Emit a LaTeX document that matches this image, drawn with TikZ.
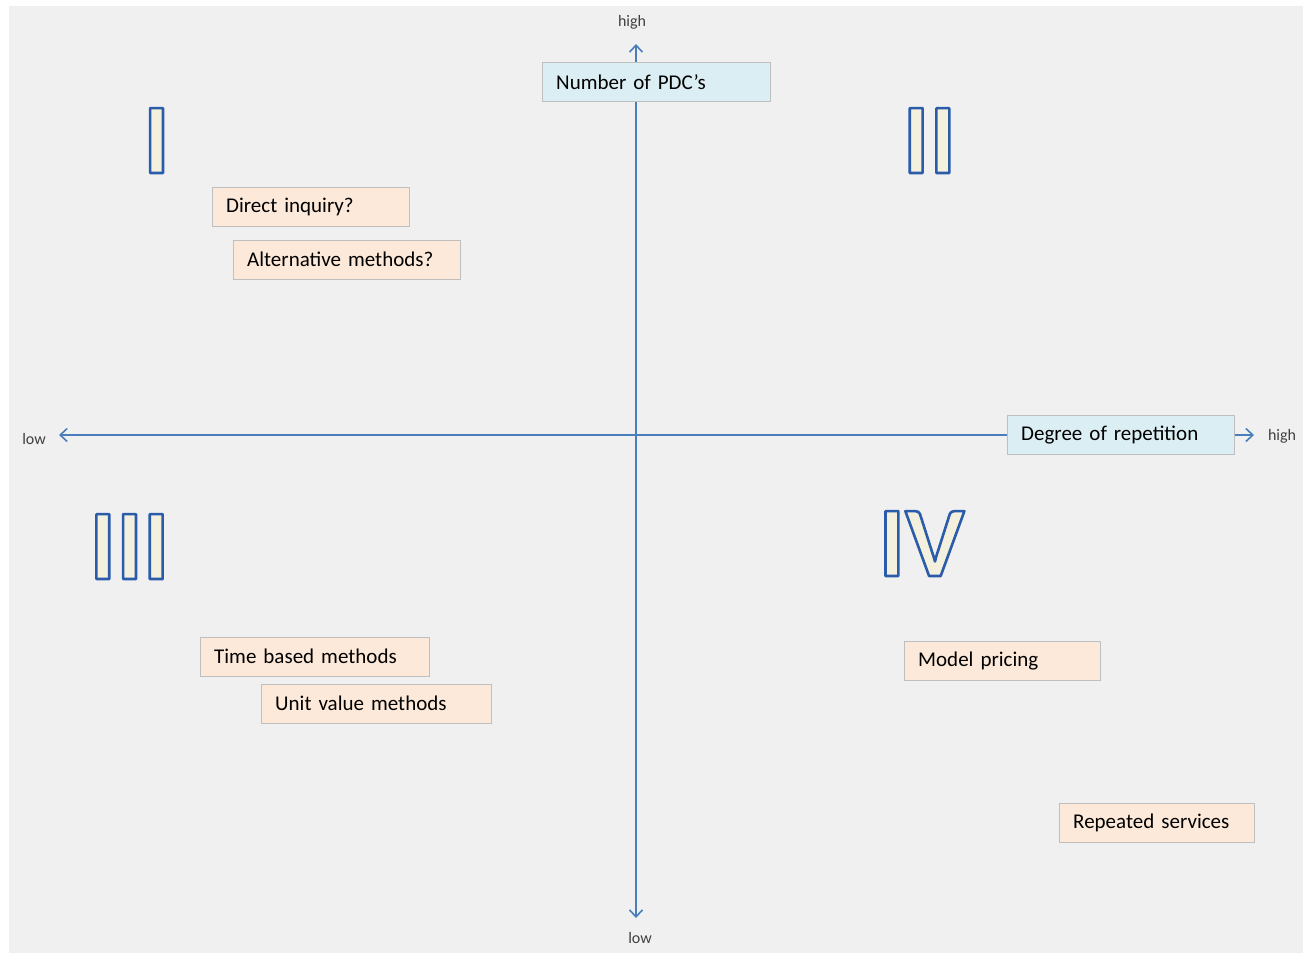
\documentclass[tikz,border=0pt]{standalone}
\usepackage{fontspec}
\setmainfont{Carlito}
\usetikzlibrary{arrows.meta}
\definecolor{bggray}{HTML}{F0F0F0}
\definecolor{axisblue}{HTML}{4A7EBB}
\definecolor{bluefill}{HTML}{DBEEF4}
\definecolor{peachfill}{HTML}{FDE9D9}
\definecolor{boxline}{HTML}{BFBFBF}
\definecolor{numfill}{HTML}{F4F0DE}
\definecolor{lblgray}{HTML}{404040}
% outlined numerals: fill in numfill, stroke in dark blue
\newcommand{\outlined}[1]{\special{pdf:code 2 Tr 2.6 w 1 j 0.165 0.361 0.667 RG}#1}

\begin{document}
\begin{tikzpicture}[x=1pt,y=-1pt]
  \tikzstyle{every node}=[inner sep=0pt]
  \tikzstyle{axis}=[draw=axisblue, line width=1.6pt,
    {Straight Barb[length=7pt,width=13pt]}-{Straight Barb[length=7pt,width=13pt]}]
  \tikzstyle{lbl}=[text=lblgray, font=\fontsize{16}{18}\selectfont]
  \tikzstyle{box}=[draw=boxline, anchor=north west, minimum height=39pt,
    inner xsep=14pt, align=left, font=\fontsize{21}{25}\selectfont]
  \tikzstyle{blue box}=[box, fill=bluefill]
  \tikzstyle{peach box}=[box, fill=peachfill]
  \tikzstyle{numeral}=[anchor=base, text=numfill,
    font=\fontsize{100}{100}\selectfont\bfseries]
  \useasboundingbox (0,0) rectangle (1303,953);
  \fill[bggray] (9,6) rectangle (1303,953);
  % axis ends
  \coordinate (ytop) at (636,44);
  \coordinate (ybot) at (636,918);
  \coordinate (xl) at (59,435);
  \coordinate (xr) at (1254,435);
  \draw[axis] (ybot) -- (ytop);
  \draw[axis] (xl) -- (xr);
  \node[lbl] (hightop) at (632,22) {high};
  \node[lbl] (lowbot) at (640,938) {low};
  \node[lbl] (lowleft) at (34,439) {low};
  \node[lbl] (highright) at (1282,436) {high};
  % axis titles
  \node[blue box, text width=200pt] (pdc) at (542,62) {Number of PDC’s};
  \node[blue box, text width=199pt] (rep) at (1007,415) {Degree of repetition};
  % quadrants
  \node[numeral] (q1) at (156.5,173) {\outlined{I}};
  \node[numeral] (q2) at (929.5,173) {\outlined{II}};
  \node[numeral] (q3) at (129.5,579) {\outlined{III}};
  \node[numeral] (q4) at (921.5,576) {\outlined{IV}};
  % methods
  \node[peach box, text width=169pt] (direct) at (212,187) {Direct inquiry?};
  \node[peach box, text width=199pt] (alt) at (233,240) {Alternative methods?};
  \node[peach box, text width=201pt] (time) at (200,637) {Time based methods};
  \node[peach box, text width=202pt] (unit) at (261,684) {Unit value methods};
  \node[peach box, text width=168pt] (model) at (904,641) {Model pricing};
  \node[peach box, text width=167pt] (repeated) at (1059,803) {Repeated services};
\end{tikzpicture}
\end{document}
